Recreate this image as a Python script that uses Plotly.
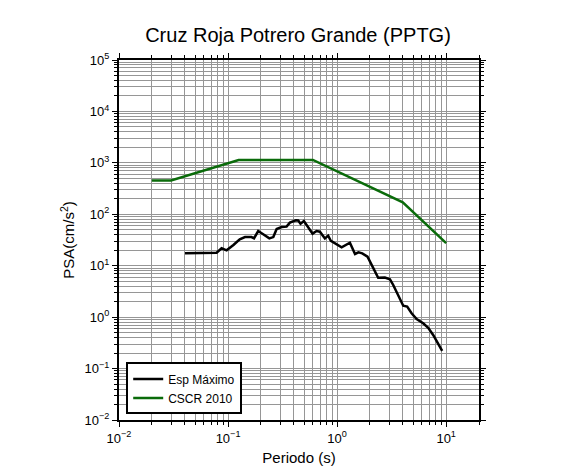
import plotly.graph_objects as go

# Esp Máximo (black)
esp_T = [0.0403, 0.0785, 0.0873, 0.097, 0.112, 0.128, 0.143, 0.164, 0.173, 0.189, 0.21, 0.239,
         0.26, 0.279, 0.31, 0.344, 0.369, 0.396, 0.419, 0.44, 0.462, 0.496, 0.543, 0.596, 0.648,
         0.695, 0.773, 0.828, 0.877, 0.989, 1.1, 1.31, 1.46, 1.57, 1.7, 1.9, 2.07, 2.38, 2.74,
         3.05, 3.27, 3.63, 4.04, 4.39, 4.82, 5.36, 6.15, 6.84, 7.6, 9.19]
esp_psa = [17.4, 17.9, 21.8, 19.9, 25.3, 32.6, 36.1, 36.0, 34.1, 47.3, 40.8, 34.0,
           36.0, 51.7, 56.6, 57.5, 68.7, 71.8, 76.4, 76.0, 65.6, 74.0, 55.0, 42.0, 47.3,
           45.9, 34.0, 38.4, 30.3, 26.1, 22.8, 28.0, 16.9, 18.2, 17.4, 15.0, 10.6, 5.84, 5.9,
           5.44, 4.22, 2.7, 1.67, 1.6, 1.19, 0.92, 0.76, 0.62, 0.45, 0.22]

# CSCR 2010 (green)
cscr_T = [0.02, 0.03, 0.125, 0.6, 4.0, 10.0]
cscr_psa = [455, 455, 1140, 1140, 171, 27.4]

x_tickvals = [0.01, 0.1, 1, 10]
x_ticktext = ["10<sup>\u22122</sup>", "10<sup>\u22121</sup>", "10<sup>0</sup>", "10<sup>1</sup>"]
y_tickvals = [1e-2, 1e-1, 1, 10, 100, 1e3, 1e4, 1e5]
y_ticktext = ["10<sup>\u22122</sup>", "10<sup>\u22121</sup>", "10<sup>0</sup>", "10<sup>1</sup>",
              "10<sup>2</sup>", "10<sup>3</sup>", "10<sup>4</sup>", "10<sup>5</sup>"]

x_minor = [m * 10 ** e for e in range(-2, 2) for m in range(2, 10)]
y_minor = [m * 10 ** e for e in range(-2, 5) for m in range(2, 10)]

FONT = "Liberation Sans, Arial, Helvetica, sans-serif"
GRID = "#969696"

fig = go.Figure()
fig.add_trace(go.Scatter(x=esp_T, y=esp_psa, mode="lines", name="Esp Máximo",
                         line=dict(color="black", width=2.5)))
fig.add_trace(go.Scatter(x=cscr_T, y=cscr_psa, mode="lines", name="CSCR 2010",
                         line=dict(color="#0a6b0a", width=2.5)))

axis_common = dict(
    type="log", showline=True, linecolor="black", linewidth=2, mirror="ticks",
    ticks="outside", ticklen=5, tickwidth=1, tickcolor="black",
    showgrid=True, gridcolor=GRID, gridwidth=1, zeroline=False,
    tickfont=dict(size=13, color="black", family=FONT),
)

fig.update_xaxes(
    range=[-2, 1.30103], tickvals=x_tickvals, ticktext=x_ticktext,
    title=dict(text="Periodo (s)", font=dict(size=15, family=FONT, color="black"), standoff=8),
    minor=dict(tickvals=x_minor, ticks="outside", ticklen=3, tickcolor="black",
               showgrid=True, gridcolor=GRID, gridwidth=1),
    **axis_common,
)
fig.update_yaxes(
    range=[-2, 5], tickvals=y_tickvals, ticktext=y_ticktext,
    title=dict(text="PSA(cm/s<sup>2</sup>)", font=dict(size=15, family=FONT, color="black"), standoff=6),
    minor=dict(tickvals=y_minor, ticks="outside", ticklen=3, tickcolor="black",
               showgrid=True, gridcolor=GRID, gridwidth=1),
    **axis_common,
)

fig.update_layout(
    width=586, height=475,
    margin=dict(l=111, r=115, t=52, b=63),
    paper_bgcolor="white", plot_bgcolor="white",
    title=dict(text="Cruz Roja Potrero Grande (PPTG)", x=290 / 586, xanchor="center",
               y=1 - 27 / 475, yanchor="middle",
               font=dict(size=20, family=FONT, color="black")),
    showlegend=True,
    legend=dict(x=0.02, y=0.16, xanchor="left", yanchor="top",
                bgcolor="white", bordercolor="black", borderwidth=2,
                font=dict(size=12, family=FONT, color="black"),
                itemwidth=30, tracegroupgap=2),
)

fig.write_html("out.html")
